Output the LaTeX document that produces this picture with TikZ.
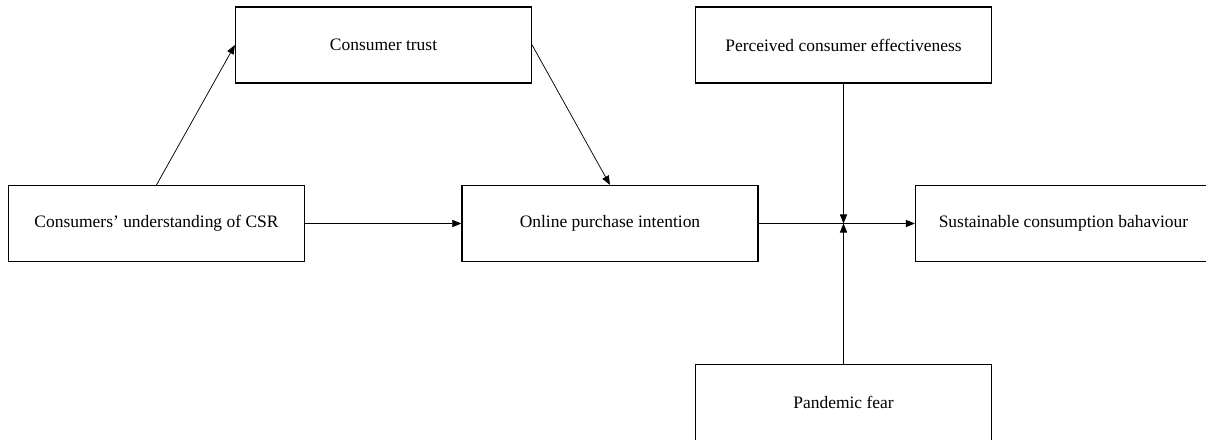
\documentclass[tikz,border=0pt]{standalone}
\usepackage{fontspec}
\setmainfont{Liberation Serif}
\usetikzlibrary{arrows.meta, positioning, calc}

\begin{document}
\begin{tikzpicture}[
      x=0.75pt, y=-0.75pt,
      factor/.style={draw, line width=0.9pt, minimum width=222pt,
        minimum height=57pt, inner sep=0pt, align=center,
        font=\fontsize{13.1}{15.7}\selectfont},
      link/.style={line width=0.55pt},
      >={Triangle[length=6.8pt, width=5.4pt]}
    ]
      \useasboundingbox (0,0) rectangle (1206,439);
      \node[factor] (csr) at (156.5,223.5) {Consumers’ understanding of CSR};
      \node[factor, right=117.2pt of csr] (intent) {Online purchase intention};
      \node[factor, right=117.2pt of intent] (behaviour) {Sustainable consumption bahaviour};
      \node[factor] (trust) at (383.5,45) {Consumer trust};
      \node[factor] (pce) at (843.5,45) {Perceived consumer effectiveness};
      \node[factor] (fear) at (843.5,402.5) {Pandemic fear};
      \coordinate (joint) at (intent.east -| pce.south);
      \draw[->, link] (csr.north) -- (trust.west);
      \draw[->, link] (trust.east) -- (intent.north);
      \draw[->, link] (csr) -- (intent);
      \draw[->, link] (intent) -- (behaviour);
      \draw[->, link] (pce) -- (joint);
      \draw[->, link] (fear) -- (joint);
    \end{tikzpicture}
\end{document}
